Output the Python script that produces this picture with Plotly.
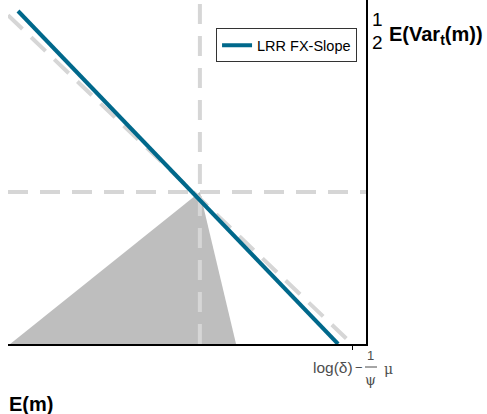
import plotly.graph_objects as go

# ---- data (arbitrary units, both axes 0..10) ----
frontier_x = [0.28, 9.22]          # LRR FX-Slope line
frontier_y = [9.68, 0.0]
ref_x = [0.0, 9.61]                 # dashed reference diagonal
ref_y = [9.56, 0.0]
vline_x = [5.36, 5.36]
vline_y = [0.0, 10.0]
hline_x = [0.0, 10.0]
hline_y = [4.42, 4.42]
tri_x = [0.06, 5.36, 6.37, 0.06]    # shaded triangle
tri_y = [0.0, 4.42, 0.0, 0.0]
tick_vals = [9.61]
series_name = "LRR FX-Slope"

BLUE = "#00688B"
DASH = "#D6D6D6"
FILL = "#BEBEBE"

fig = go.Figure()
fig.add_trace(go.Scatter(x=tri_x, y=tri_y, fill="toself", fillcolor=FILL,
                         mode="lines", line=dict(width=0), showlegend=False, hoverinfo="skip"))
for xs, ys in [(vline_x, vline_y), (hline_x, hline_y), (ref_x, ref_y)]:
    fig.add_trace(go.Scatter(x=xs, y=ys, mode="lines", showlegend=False,
                             line=dict(color=DASH, width=4, dash="20px,12px")))
fig.add_trace(go.Scatter(x=frontier_x, y=frontier_y, mode="lines", name=series_name,
                         line=dict(color=BLUE, width=4)))

fig.update_layout(
    width=487, height=414,
    margin=dict(l=8, r=121, t=0, b=70),
    paper_bgcolor="white", plot_bgcolor="white",
    font=dict(family="Liberation Sans, Arial, sans-serif", color="black"),
    showlegend=True,
    legend=dict(x=0.975, xanchor="right", y=0.918, yanchor="top",
                bordercolor="#333333", borderwidth=1, bgcolor="white",
                font=dict(size=14.5, color="black"), itemwidth=30),
    xaxis=dict(range=[0, 10], showgrid=False, zeroline=False, showline=True,
               linecolor="black", linewidth=1.5, ticks="outside", ticklen=4,
               tickcolor="black", tickvals=tick_vals, ticktext=[""], fixedrange=True),
    yaxis=dict(range=[0, 10], side="right", showgrid=False, zeroline=False, showline=True,
               linecolor="black", linewidth=1.5, showticklabels=False, ticks="", fixedrange=True),
)

def pxx(px):
    return (px - 8) / 358.0

def pxy(py):
    return (344 - py) / 344.0

ann = []
def add(text, x, y, size, color="black", family="Liberation Sans, Arial, sans-serif", xanchor="center"):
    ann.append(dict(text=text, x=pxx(x), y=pxy(y), xref="paper", yref="paper",
                    showarrow=False, xanchor=xanchor, yanchor="middle",
                    font=dict(size=size, color=color, family=family)))

# top-right y label: 1/2 E(Var_t(m))
add("1", 377, 20, 19)
add("2", 377, 42, 19)
add("<b>E(Var<sub>t</sub>(m))</b>", 387, 36, 20, xanchor="left")

# x tick label: log(δ) − (1/ψ) μ
GRAY = "#4D4D4D"
add("log(δ)", 333, 368, 15.5, GRAY)
add("−", 359, 368, 13, GRAY)
add("1", 371, 355, 13, GRAY)
add("ψ", 371, 380, 14, GRAY, family="DejaVu Serif, serif")
add("μ", 388, 369, 14, GRAY, family="DejaVu Serif, serif")

# bottom-left x label
add("<b>E(m)</b>", 31, 404, 20)

fig.update_layout(annotations=ann)
fig.add_shape(type="line", xref="paper", yref="paper",
              x0=pxx(365), x1=pxx(377), y0=pxy(367), y1=pxy(367),
              line=dict(color=GRAY, width=1))

fig.write_html("out.html", config={"displayModeBar": False},
               post_script="document.body.style.margin='0';")
